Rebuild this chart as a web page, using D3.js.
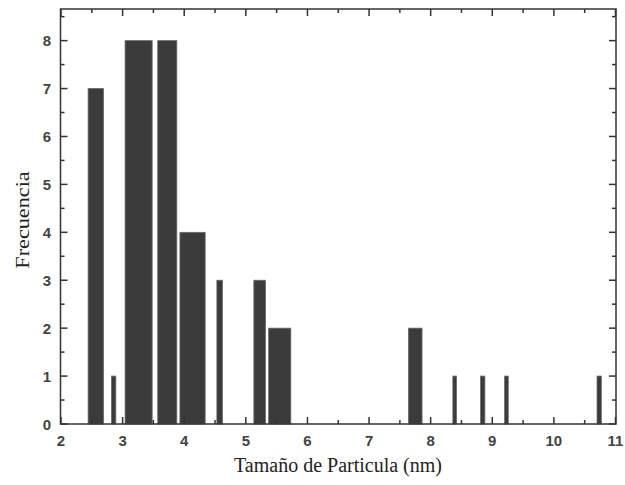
<html lang="es">
<head>
<meta charset="utf-8">
<title>Frecuencia</title>
<script src="https://d3js.org/d3.v7.min.js"></script>
<style>
  body { margin: 0; background: white; }
</style>
</head>
<body>
<div id="chart"></div>
<script>

// bins (nm) and the counts
var binStart = [2.44, 2.82, 3.04, 3.57, 3.93, 4.53, 5.13, 5.37, 7.64, 8.36, 8.81, 9.20, 10.70];
var binEnd   = [2.69, 2.89, 3.48, 3.88, 4.34, 4.62, 5.32, 5.73, 7.86, 8.42, 8.88, 9.26, 10.77];
var counts   = [7, 1, 8, 8, 4, 3, 3, 2, 2, 1, 1, 1, 1];

var xTicks = [2, 3, 4, 5, 6, 7, 8, 9, 10, 11];
var yTicks = [0, 1, 2, 3, 4, 5, 6, 7, 8];

var W = 625, H = 485;
// plot frame (don't call these top/left: window.top is read-only)
var pLeft = 60.5, pRight = 616, pTop = 9, pBottom = 424;

var svg = d3.select("#chart").append("svg")
    .attr("width", W)
    .attr("height", H);

var x = d3.scaleLinear().domain([2, 11]).range([61, 615.5]);
var y = d3.scaleLinear().domain([0, 8.66]).range([pBottom, pTop]);

// bars
svg.append("g").selectAll("rect")
  .data(counts)
  .enter().append("rect")
    .attr("x", function(d, i) { return x(binStart[i]); })
    .attr("width", function(d, i) { return x(binEnd[i]) - x(binStart[i]); })
    .attr("y", function(d) { return y(d); })
    .attr("height", function(d) { return y(0) - y(d); })
    .attr("fill", "#3b3b3b")
    .attr("stroke", "#6a6a6a")
    .attr("stroke-width", 0.8);

var tickColor = "#333";
var minorX = d3.range(2.5, 11, 1);
var minorY = d3.range(0.5, 8.6, 1);

// inward ticks on all four sides
function ticks(g, vals, len, horiz) {
  vals.forEach(function(v) {
    if (horiz) {
      g.append("line").attr("x1", x(v)).attr("x2", x(v)).attr("y1", pBottom).attr("y2", pBottom - len);
      g.append("line").attr("x1", x(v)).attr("x2", x(v)).attr("y1", pTop).attr("y2", pTop + len);
    } else {
      g.append("line").attr("y1", y(v)).attr("y2", y(v)).attr("x1", pLeft).attr("x2", pLeft + len);
      g.append("line").attr("y1", y(v)).attr("y2", y(v)).attr("x1", pRight).attr("x2", pRight - len);
    }
  });
}
var tg = svg.append("g").attr("stroke", tickColor).attr("stroke-width", 1.5);
ticks(tg, xTicks, 7, true);
ticks(tg, minorX, 4, true);
ticks(tg, yTicks, 7, false);
ticks(tg, minorY, 4, false);

// frame
svg.append("rect")
    .attr("x", pLeft).attr("y", pTop)
    .attr("width", pRight - pLeft).attr("height", pBottom - pTop)
    .attr("fill", "none")
    .attr("stroke", tickColor)
    .attr("stroke-width", 1.5);

// tick labels
svg.append("g").selectAll("text")
  .data(xTicks).enter().append("text")
    .attr("x", function(d) { return x(d); })
    .attr("y", 446)
    .attr("text-anchor", "middle")
    .style("font-family", "Liberation Sans, Arial, sans-serif")
    .style("font-size", "15px")
    .style("font-weight", "bold")
    .style("fill", "#444")
    .text(function(d) { return d; });

svg.append("g").selectAll("text")
  .data(yTicks).enter().append("text")
    .attr("x", 51)
    .attr("y", function(d) { return y(d) + 5.5; })
    .attr("text-anchor", "end")
    .style("font-family", "Liberation Sans, Arial, sans-serif")
    .style("font-size", "15px")
    .style("font-weight", "bold")
    .style("fill", "#444")
    .text(function(d) { return d; });

// axis titles
svg.append("text")
    .attr("x", 338)
    .attr("y", 472)
    .attr("text-anchor", "middle")
    .style("font-family", "Liberation Serif, Times New Roman, serif")
    .style("font-size", "20px")
    .style("fill", "#222")
    .text("Tamaño de Particula (nm)");

// the picture is a bit stretched vertically, so stretch the rotated title along its length
svg.append("text")
    .attr("transform", "translate(29,220) rotate(-90) scale(1.17,1)")
    .attr("text-anchor", "middle")
    .style("font-family", "Liberation Serif, Times New Roman, serif")
    .style("font-size", "19px")
    .style("fill", "#222")
    .text("Frecuencia");

</script>
</body>
</html>
